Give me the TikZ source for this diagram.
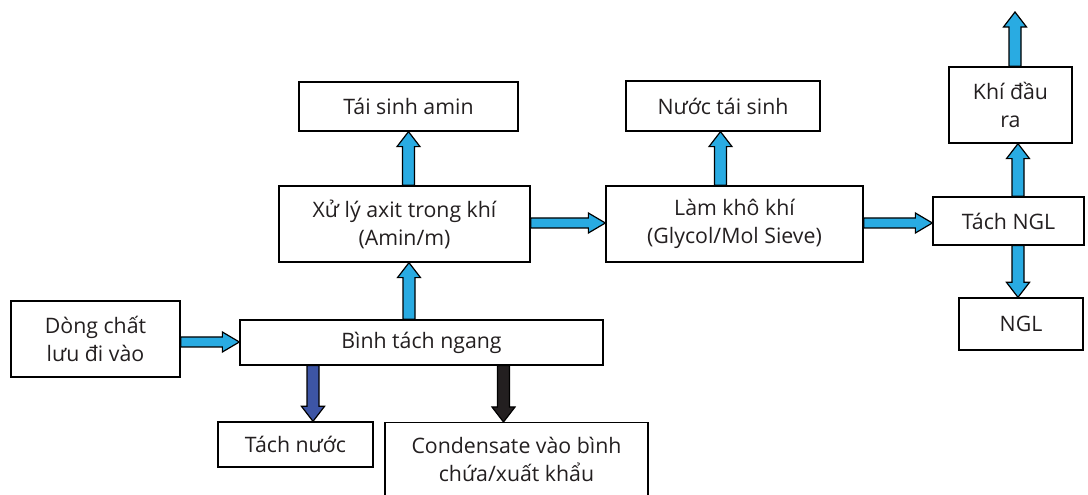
\documentclass[tikz,border=0pt]{standalone}
\usepackage{fontspec}
\setmainfont{Open Sans}
\usetikzlibrary{calc}
\definecolor{arrcyan}{HTML}{29ABE2}
\definecolor{arrblue}{HTML}{3D55A5}
\definecolor{arrdark}{HTML}{231F20}
\definecolor{txt}{HTML}{231F20}
\newlength\fasw \newlength\faW \newlength\fahl
\newcommand\fatarrow[3]{%
  \coordinate (fa-s) at #2;
  \coordinate (fa-e) at #3;
  \coordinate (fa-h) at ($(fa-e)!\fahl!(fa-s)$);
  \filldraw[fill=#1, draw=black, line width=1.2pt, line join=miter]
    ($(fa-s)!\fasw!90:(fa-e)$) -- ($(fa-h)!\fasw!-90:(fa-s)$) --
    ($(fa-h)!\faW!-90:(fa-s)$) -- (fa-e) --
    ($(fa-h)!\faW!90:(fa-s)$) -- ($(fa-h)!\fasw!90:(fa-s)$) --
    ($(fa-s)!\fasw!-90:(fa-e)$) -- cycle;
}
\tikzset{
  box/.style={draw=black, line width=1.3pt, fill=white, align=center,
    inner sep=0pt, text=txt,
    font=\fontsize{21.3}{28}\selectfont},
}
\begin{document}
\begin{tikzpicture}[x=1pt,y=1pt]
\clip (0,0) rectangle (1088,495);
\fill[white] (0,0) rectangle (1088,495);
% boxes (y = 495 - pixel y)
\node[box, minimum width=169, minimum height=76] (dong) at (95.5,156) {Dòng chất\\lưu đi vào};
\node[box, minimum width=363, minimum height=45] (binh) at (421.5,152.5) {Bình tách ngang};
\node[box, minimum width=251, minimum height=76] (xuly) at (404.5,271) {Xử lý axit trong khí\\(Amin/m)};
\node[box, minimum width=219, minimum height=49] (taisinh) at (408.5,388.5) {Tái sinh amin};
\node[box, minimum width=257, minimum height=76] (lamkho) at (734.5,271) {Làm khô khí\\(Glycol/Mol Sieve)};
\node[box, minimum width=194, minimum height=50] (nuoc) at (723,389) {Nước tái sinh};
\node[box, minimum width=151, minimum height=48] (tachngl) at (1008.5,274) {Tách NGL};
\node[box, minimum width=123, minimum height=76] (khi) at (1010.5,390) {Khí đầu\\ra};
\node[box, minimum width=124, minimum height=52] (ngl) at (1021,171) {NGL};
\node[box, minimum width=155, minimum height=45] (tachnuoc) at (295.5,50.5) {Tách nước};
\node[box, minimum width=263, minimum height=100, anchor=north] (cond) at (516.5,73) {};
\node[align=center, text=txt, font=\fontsize{21.3}{28}\selectfont, inner sep=0pt] (condtxt) at ($(cond.north)+(0,-37)$) {Condensate vào bình\\chứa/xuất khẩu};
\coordinate (out) at (1015,483);
% horizontal arrows
\setlength\fasw{5pt}\setlength\faW{10pt}\setlength\fahl{17pt}
\fatarrow{arrcyan}{(dong.east |- 0,153)}{(binh.west |- 0,153)}
\fatarrow{arrcyan}{(xuly.east |- 0,272)}{(lamkho.west |- 0,272)}
\fatarrow{arrcyan}{(lamkho.east |- 0,272)}{(tachngl.west |- 0,272)}
% vertical arrows
\setlength\fasw{6pt}\setlength\faW{11.5pt}\setlength\fahl{15pt}
\fatarrow{arrcyan}{(binh.north -| 409,0)}{(xuly.south -| 409,0)}
\fatarrow{arrcyan}{(xuly.north -| 408.5,0)}{(taisinh.south -| 408.5,0)}
\fatarrow{arrcyan}{(lamkho.north -| 720.5,0)}{(nuoc.south -| 720.5,0)}
\fatarrow{arrcyan}{(tachngl.north -| 1018,0)}{(khi.south -| 1018,0)}
\fatarrow{arrcyan}{(khi.north -| 1015,0)}{(out)}
\fatarrow{arrcyan}{(tachngl.south -| 1018,0)}{(ngl.north -| 1018,0)}
\fatarrow{arrblue}{(binh.south -| 313,0)}{(tachnuoc.north -| 313,0)}
\fatarrow{arrdark}{(binh.south -| 503.5,0)}{(cond.north -| 503.5,0)}
\end{tikzpicture}
\end{document}
